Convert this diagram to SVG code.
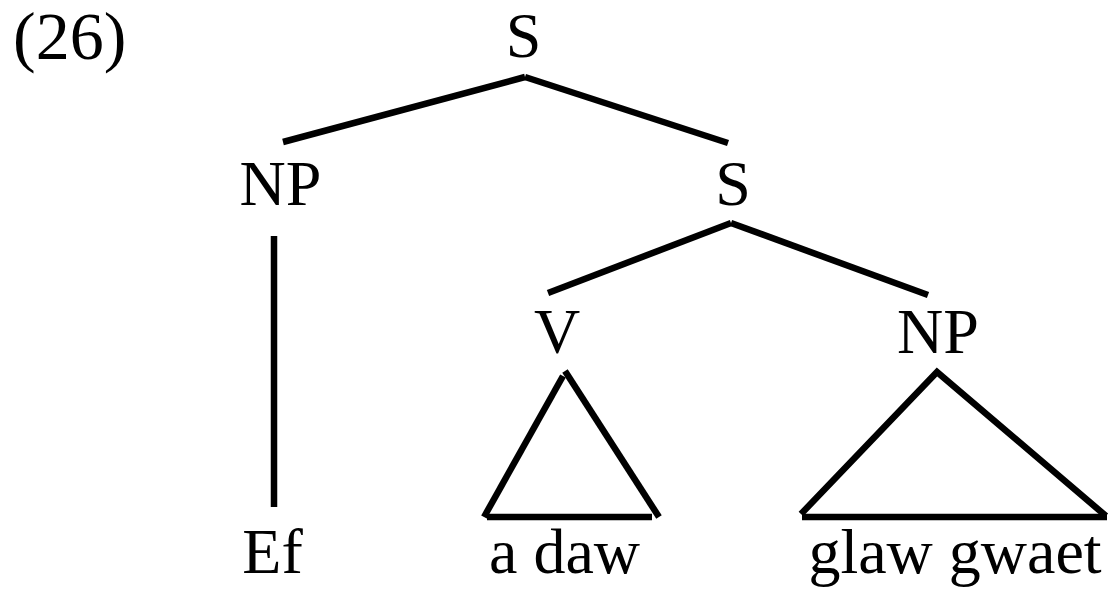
<svg xmlns="http://www.w3.org/2000/svg" width="1110" height="592" viewBox="0 0 1110 592">
  <style>
    .lbl { font-family: "Liberation Serif", "Times New Roman", serif; font-size: 64px; fill: #000; text-anchor: middle; }
    .edge { stroke: #000; stroke-width: 6.5; fill: none; stroke-linecap: butt; }
  </style>
  <rect width="1110" height="592" fill="#fff"/>

  <text id="example-number" class="lbl" x="13" y="59" style="text-anchor:start;font-size:68px">(26)</text>

  <g id="connectors">
    <line class="edge" x1="525" y1="77" x2="283" y2="142"/>
    <line class="edge" x1="525" y1="77" x2="728" y2="143"/>
    <line class="edge" x1="274" y1="236" x2="274" y2="507"/>
    <line class="edge" x1="731" y1="223" x2="548" y2="293"/>
    <line class="edge" x1="731" y1="223" x2="928" y2="295"/>
    <!-- V triangle -->
    <line class="edge" x1="563" y1="376" x2="484" y2="517"/>
    <line class="edge" x1="565" y1="371" x2="659" y2="517"/>
    <line class="edge" x1="487" y1="517" x2="652" y2="517"/>
    <!-- NP triangle -->
    <polyline class="edge" points="801,514 937,372 1106,516"/>
    <line class="edge" x1="802" y1="517" x2="1107" y2="517"/>
  </g>

  <g id="node-s-root"><text class="lbl" x="523.5" y="57">S</text></g>
  <g id="node-np-subj"><text class="lbl" x="280.5" y="205">NP</text></g>
  <g id="node-s-inner"><text class="lbl" x="733" y="205">S</text></g>
  <g id="node-v"><text class="lbl" x="557" y="353">V</text></g>
  <g id="node-np-obj"><text class="lbl" x="938" y="353">NP</text></g>
  <g id="leaf-ef"><text class="lbl" x="272.5" y="573">Ef</text></g>
  <g id="leaf-a-daw"><text class="lbl" x="564.5" y="573">a daw</text></g>
  <g id="leaf-glaw-gwaet"><text class="lbl" x="955" y="573">glaw gwaet</text></g>
</svg>
